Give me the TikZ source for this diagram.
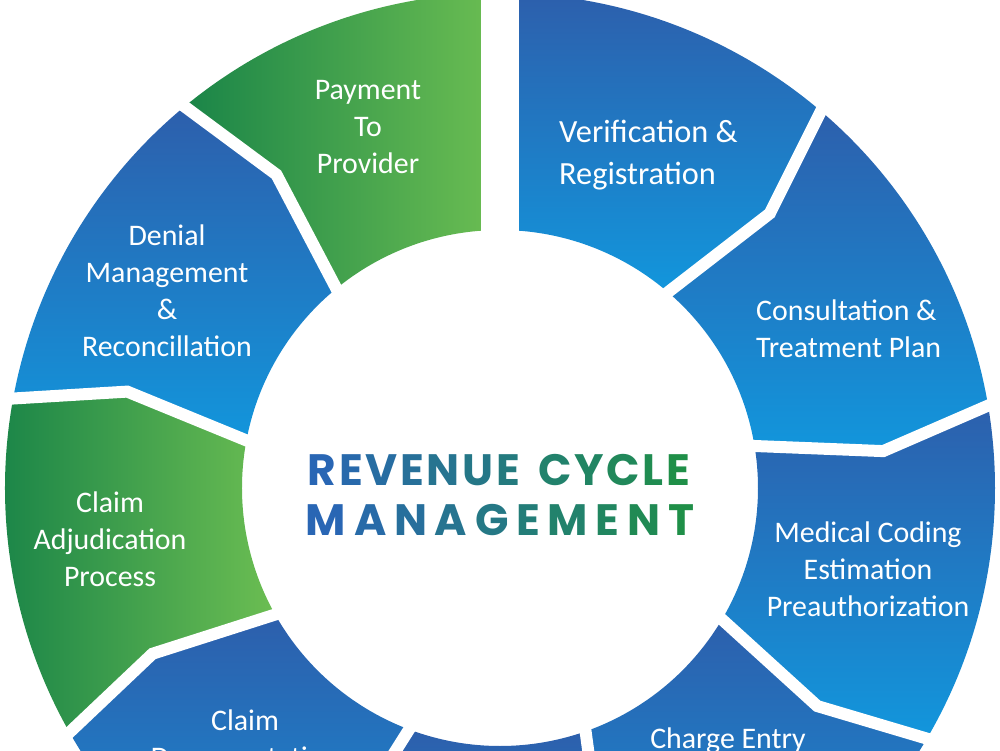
\documentclass[tikz,border=0pt]{standalone}
\usepackage{fontspec}
\setmainfont{Carlito}
\newfontfamily\titlefont{Poppins}
\definecolor{segdark}{RGB}{45,95,172}
\definecolor{seglight}{RGB}{18,150,220}
\definecolor{grdark}{RGB}{25,132,72}
\definecolor{grlight}{RGB}{108,190,82}
\definecolor{ttblue}{RGB}{41,102,180}
\definecolor{ttgreen}{RGB}{31,143,72}
\newcommand{\gradletter}[2]{\textcolor{ttgreen!#1!ttblue}{#2}\kern1.5pt\relax}
\newcommand{\gradwide}[2]{\textcolor{ttgreen!#1!ttblue}{#2}\kern4.4pt\relax}
\newcommand{\gradlast}[2]{\textcolor{ttgreen!#1!ttblue}{#2}}

\begin{document}
\begin{tikzpicture}[x=1cm,y=1cm,
  bluestep/.style={top color=segdark, bottom color=seglight},
  greenstep/.style={left color=grdark, right color=grlight},
  gapline/.style={white, line width=0.24cm, line join=miter},
  steplabel/.style={font=\fontsize{17}{21}\selectfont, text=white, align=center},
  titleline/.style={font=\titlefont\bfseries\fontsize{25}{28}\selectfont}]
\useasboundingbox (-10,-5.24) rectangle (10,9.76);
\clip (-10,-5.24) rectangle (10,9.76);
% ring segments, clockwise from the top
\shade[bluestep] (90:5.16) -- (90:9.9) arc[start angle=90, end angle=50, radius=9.9] -- (45.5:7.7) -- (50:5.16) arc[start angle=50, end angle=90, radius=5.16] -- cycle;
\shade[bluestep] (50:5.16) -- (45.5:7.7) -- (50:9.9) arc[start angle=50, end angle=10, radius=9.9] -- (5.5:7.7) -- (10:5.16) arc[start angle=10, end angle=50, radius=5.16] -- cycle;
\shade[bluestep] (10:5.16) -- (5.5:7.7) -- (10:9.9) arc[start angle=10, end angle=-30, radius=9.9] -- (-34.5:7.7) -- (-30:5.16) arc[start angle=-30, end angle=10, radius=5.16] -- cycle;
\shade[bluestep] (-30:5.16) -- (-34.5:7.7) -- (-30:9.9) arc[start angle=-30, end angle=-70, radius=9.9] -- (-74.5:7.7) -- (-70:5.16) arc[start angle=-70, end angle=-30, radius=5.16] -- cycle;
\shade[bluestep] (-70:5.16) -- (-74.5:7.7) -- (-70:9.9) arc[start angle=-70, end angle=-110, radius=9.9] -- (-114.5:7.7) -- (-110:5.16) arc[start angle=-110, end angle=-70, radius=5.16] -- cycle;
\shade[bluestep] (-110:5.16) -- (-114.5:7.7) -- (-110:9.9) arc[start angle=-110, end angle=-150, radius=9.9] -- (-154.5:7.7) -- (-150:5.16) arc[start angle=-150, end angle=-110, radius=5.16] -- cycle;
\shade[greenstep] (210:5.16) -- (205.5:7.7) -- (210:9.9) arc[start angle=210, end angle=170, radius=9.9] -- (165.5:7.7) -- (170:5.16) arc[start angle=170, end angle=210, radius=5.16] -- cycle;
\shade[bluestep] (170:5.16) -- (165.5:7.7) -- (170:9.9) arc[start angle=170, end angle=130, radius=9.9] -- (125.5:7.7) -- (130:5.16) arc[start angle=130, end angle=170, radius=5.16] -- cycle;
\shade[greenstep] (130:5.16) -- (125.5:7.7) -- (130:9.9) arc[start angle=130, end angle=90, radius=9.9] -- (90:5.16) arc[start angle=90, end angle=130, radius=5.16] -- cycle;
% white gaps
\draw[white, line width=0.76cm] (90:4.9) -- (90:10.2);
\draw[gapline] (50:4.9) -- (45.5:7.7) -- (50:10.2);
\draw[gapline] (10:4.9) -- (5.5:7.7) -- (10:10.2);
\draw[gapline] (-30:4.9) -- (-34.5:7.7) -- (-30:10.2);
\draw[gapline] (-70:4.9) -- (-74.5:7.7) -- (-70:10.2);
\draw[gapline] (-110:4.9) -- (-114.5:7.7) -- (-110:10.2);
\draw[gapline] (-150:4.9) -- (-154.5:7.7) -- (-150:10.2);
\draw[gapline] (170:4.9) -- (165.5:7.7) -- (170:10.2);
\draw[gapline] (130:4.9) -- (125.5:7.7) -- (130:10.2);
% labels
\node[steplabel] (payment) at (-2.64,7.22) {Payment\\To\\Provider};
\node[steplabel, anchor=west, align=left, font=\fontsize{18.4}{24}\selectfont] (verify) at (1.06,6.66) {Verification \&\\Registration};
\node[steplabel, anchor=west, align=left] (consult) at (5.0,3.18) {Consultation \&\\Treatment Plan};
\node[steplabel] (coding) at (7.36,-1.62) {Medical Coding\\Estimation\\Preauthorization};
\node[steplabel] (charge) at (4.56,-5.06) {Charge Entry};
\node[steplabel] (claimdoc) at (-5.10,-5.01) {Claim\\Documentation};
\node[steplabel] (adjud) at (-7.8,-1.02) {Claim\\Adjudication\\Process};
\node[steplabel] (denial) at (-6.66,3.94) {Denial\\Management\\\&\\Reconcillation};
% title
\node[titleline] (title1) at (-0.02,0.36) {\gradletter{0}{R}\gradletter{8}{E}\gradletter{17}{V}\gradletter{25}{E}\gradletter{33}{N}\gradletter{42}{U}\gradletter{50}{E}\kern9pt\gradletter{67}{C}\gradletter{75}{Y}\gradletter{83}{C}\gradletter{92}{L}\gradlast{100}{E}};
\node[titleline] (title2) at (0,-0.64) {\gradwide{0}{M}\gradwide{11}{A}\gradwide{22}{N}\gradwide{33}{A}\gradwide{44}{G}\gradwide{56}{E}\gradwide{67}{M}\gradwide{78}{E}\gradwide{89}{N}\gradlast{100}{T}};
\end{tikzpicture}
\end{document}
